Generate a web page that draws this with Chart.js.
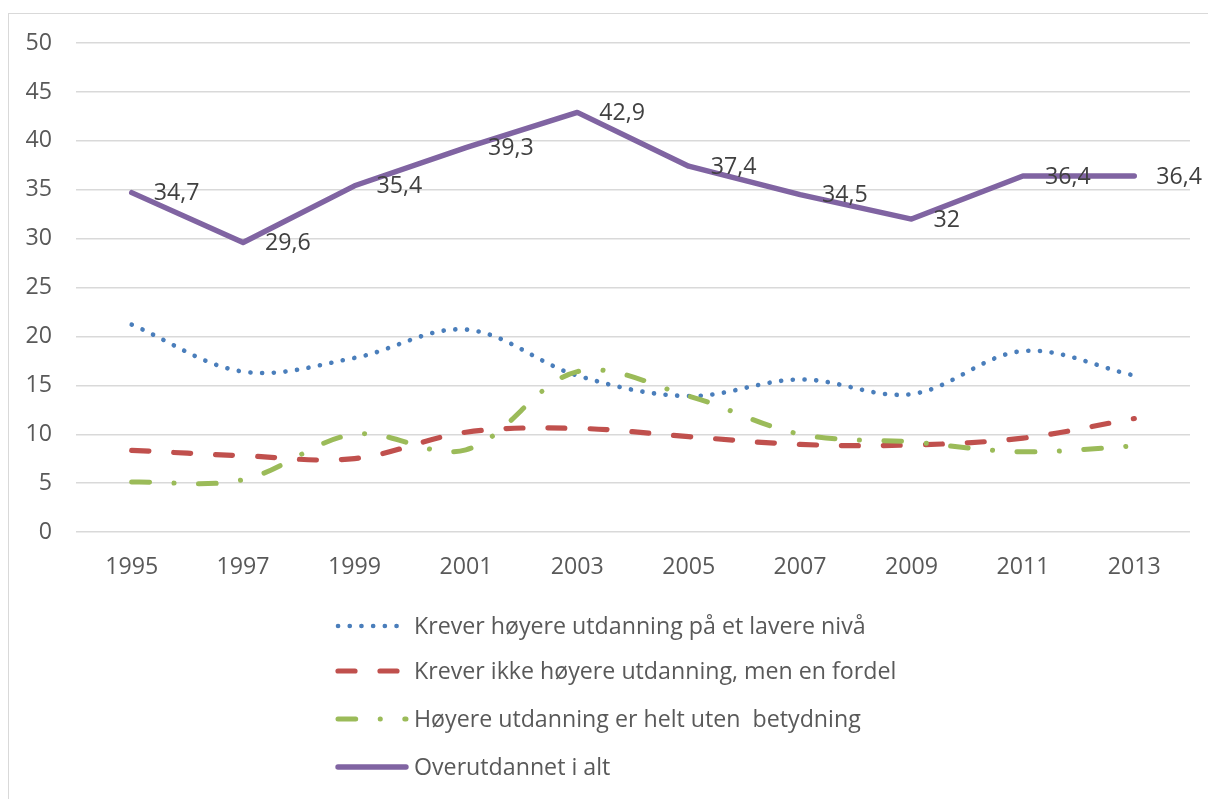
<!DOCTYPE html>
<html><head><meta charset="utf-8">
<script src="https://cdn.jsdelivr.net/npm/chart.js@4/dist/chart.umd.min.js"></script>
<style>
html,body{margin:0;padding:0;background:#fff;overflow:hidden;width:1208px;height:799px;}
#frame{position:absolute;left:8px;top:13px;width:1400px;height:900px;border:1.5px solid #D9D9D9;box-sizing:border-box;}
#c{position:absolute;left:0;top:0;}
</style></head><body>
<div id="frame"></div>
<canvas id="c" width="1208" height="799"></canvas>
<script>
const years = ['1995','1997','1999','2001','2003','2005','2007','2009','2011','2013'];
const seriesNames = [
  'Krever høyere utdanning på et lavere nivå',
  'Krever ikke høyere utdanning, men en fordel',
  'Høyere utdanning er helt uten  betydning',
  'Overutdannet i alt'
];
const krever = [21.2, 16.4, 17.8, 20.7, 16.0, 13.9, 15.6, 14.1, 18.5, 16.0];
const fordel = [8.35, 7.8, 7.5, 10.2, 10.6, 9.75, 8.95, 8.9, 9.6, 11.6];
const uten   = [5.1, 5.35, 10.0, 8.4, 16.4, 13.9, 10.0, 9.2, 8.2, 8.8];
const iAlt   = [34.7, 29.6, 35.4, 39.3, 42.9, 37.4, 34.5, 32, 36.4, 36.4];
const yMin = 0, yMax = 50, yStep = 5;

const FONT = '"Open Sans", "Noto Sans", sans-serif';
const FSIZE = 23.2;

const fmt = v => String(v).replace('.', ',');

const labelPlugin = {
  id: 'valueLabels',
  afterDatasetsDraw(chart) {
    const ctx = chart.ctx;
    const meta = chart.getDatasetMeta(3);
    ctx.save();
    ctx.font = FSIZE + 'px ' + FONT;
    ctx.fillStyle = '#404040';
    ctx.textAlign = 'left';
    ctx.textBaseline = 'middle';
    meta.data.forEach((pt, i) => {
      ctx.fillText(fmt(iAlt[i]), pt.x + 22, pt.y + 1);
    });
    ctx.restore();
  }
};

const legendPlugin = {
  id: 'customLegend',
  afterDraw(chart) {
    const ctx = chart.ctx;
    const rows = [626, 671, 719, 767];
    chart.data.datasets.forEach((ds, i) => {
      const y = rows[i];
      ctx.save();
      ctx.strokeStyle = ds.borderColor;
      ctx.lineWidth = ds.borderWidth;
      ctx.lineCap = 'round';
      ctx.setLineDash(ds.borderDash || []);
      ctx.beginPath();
      ctx.moveTo(338, y);
      ctx.lineTo(406, y);
      ctx.stroke();
      ctx.setLineDash([]);
      ctx.font = FSIZE + 'px ' + FONT;
      ctx.fillStyle = '#595959';
      ctx.textAlign = 'left';
      ctx.textBaseline = 'middle';
      ctx.fillText(ds.label, 414, y + 1);
      ctx.restore();
    });
  }
};

new Chart(document.getElementById('c'), {
  type: 'line',
  data: {
    labels: years,
    datasets: [
      { label: seriesNames[0], data: krever, borderColor: '#4A7EBB', borderWidth: 4.6,
        borderDash: [0.1, 11.6], borderCapStyle: 'round', borderJoinStyle: 'round',
        tension: 0.35, pointRadius: 0, order: 4 },
      { label: seriesNames[1], data: fordel, borderColor: '#C0504D', borderWidth: 5.2,
        borderDash: [17, 25], borderCapStyle: 'round', borderJoinStyle: 'round',
        tension: 0.35, pointRadius: 0, order: 3 },
      { label: seriesNames[2], data: uten, borderColor: '#9BBB59', borderWidth: 5.0,
        borderDash: [17.7, 24.5, 0.1, 24.5], borderCapStyle: 'round', borderJoinStyle: 'round',
        tension: 0.35, pointRadius: 0, order: 2 },
      { label: seriesNames[3], data: iAlt, borderColor: '#8064A2', borderWidth: 5.4,
        borderCapStyle: 'round', borderJoinStyle: 'round',
        tension: 0, pointRadius: 0, order: 1 }
    ]
  },
  options: {
    responsive: false,
    animation: false,
    devicePixelRatio: 1,
    layout: { padding: { left: 20, right: 18, top: 43, bottom: 207 } },
    plugins: { legend: { display: false }, tooltip: { enabled: false } },
    scales: {
      x: {
        offset: true,
        grid: { display: false, drawTicks: false, offset: true },
        border: { display: false },
        ticks: { color: '#595959', font: { family: FONT, size: FSIZE }, padding: 21, maxRotation: 0 },
        afterFit(s) { s.height = 60; }
      },
      y: {
        min: yMin, max: yMax,
        grid: { color: '#D9D9D9', lineWidth: 1.4, drawTicks: false },
        border: { display: false },
        ticks: { stepSize: yStep, color: '#595959', font: { family: FONT, size: FSIZE }, padding: 24 },
        afterFit(s) { s.width = 56; }
      }
    }
  },
  plugins: [labelPlugin, legendPlugin]
});
</script>
</body></html>
